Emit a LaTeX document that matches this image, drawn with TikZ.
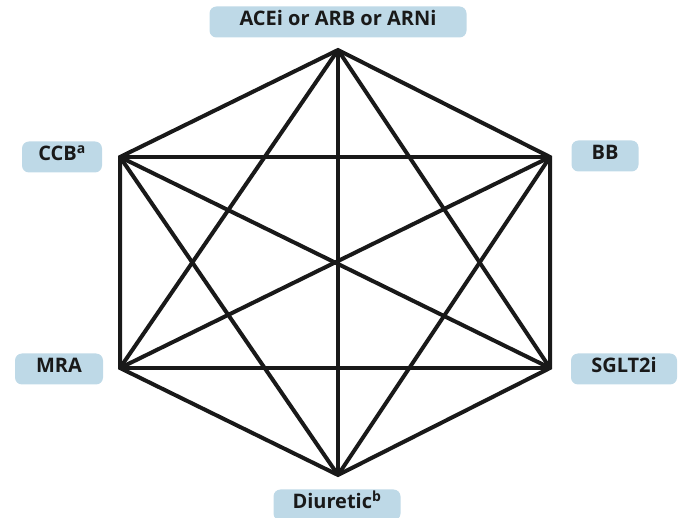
\documentclass[tikz,border=0pt]{standalone}
\usepackage{fontspec}
\setmainfont{Open Sans}
\usepackage{tikz}
\usepackage{xcolor}
\definecolor{caixa}{RGB}{190,217,231}

\begin{document}
\begin{tikzpicture}[x=1pt,y=-1pt]
\useasboundingbox (0,0) rectangle (678,518);
\tikzset{rotulo/.style={fill=caixa, rounded corners=7pt, inner sep=0pt,
  font=\bfseries\fontsize{20}{24}\selectfont, text=black!90,
  minimum height=31pt, text height=0.72em, text depth=0pt},
  aresta/.style={line width=4pt, black!90}}
% Vertices do hexagono
\coordinate (ace) at (338,50);
\coordinate (ccb) at (120,157);
\coordinate (bb) at (550,157);
\coordinate (mra) at (120,368);
\coordinate (sglt) at (550,368);
\coordinate (diu) at (338,475);
% Lados
\draw[aresta, line join=miter] (ace) -- (bb) -- (sglt) -- (diu) -- (mra) -- (ccb) -- cycle;
% Diagonais
\foreach \a/\b in {ace/sglt, ace/diu, ace/mra, ccb/bb, ccb/sglt, ccb/diu,
  bb/mra, bb/diu, mra/sglt}
  \draw[aresta] (\a) -- (\b);
% Rotulos
\node[rotulo, minimum width=257pt] (aceR) at (338,22) {ACEi or ARB or ARNi};
\node[rotulo, minimum width=80pt] (ccbR) at (62,157) {CCB\textsuperscript{a}};
\node[rotulo, minimum width=67pt] (bbR) at (605,156) {BB};
\node[rotulo, minimum width=88pt] (mraR) at (59,369) {MRA};
\node[rotulo, minimum width=106pt] (sgltR) at (624,369) {SGLT2i};
\node[rotulo, minimum width=127pt] (diuR) at (337,505) {Diuretic\textsuperscript{b}};
\end{tikzpicture}
\end{document}
